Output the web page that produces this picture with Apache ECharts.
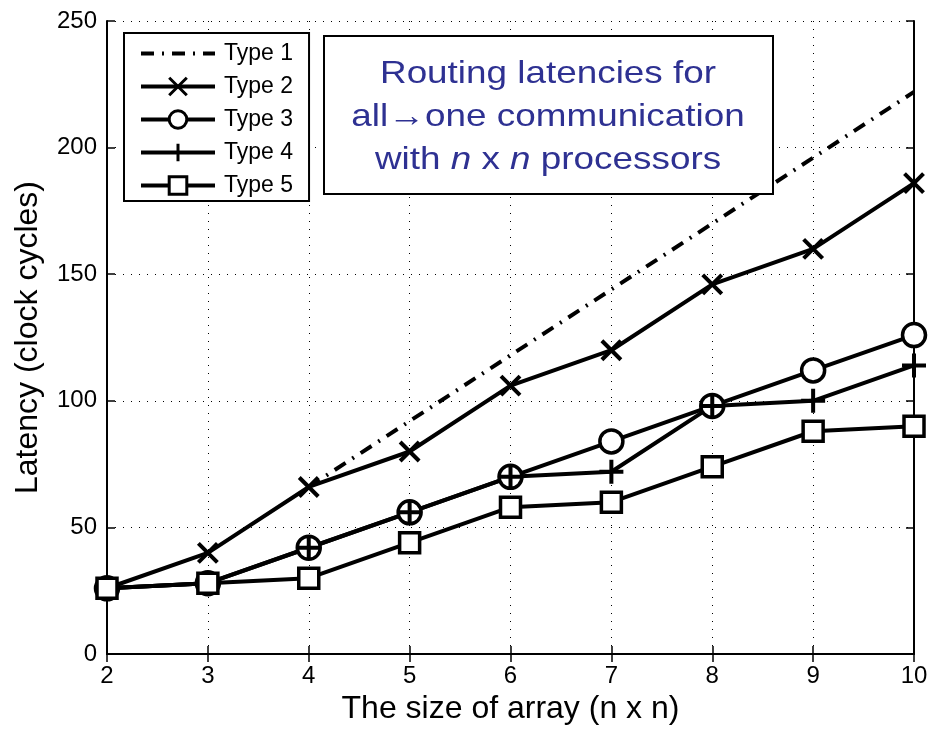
<!DOCTYPE html>
<html><head><meta charset="utf-8">
<script src="https://cdn.jsdelivr.net/npm/echarts@6/dist/echarts.min.js"></script>
<style>html,body{margin:0;padding:0;background:#fff}#c{width:931px;height:730px}</style>
</head><body><div id="c"></div>
<script>
const sizes = [2, 3, 4, 5, 6, 7, 8, 9, 10];
const type1 = [null, null, 66, 92, 118, 144, 170, 196, 222];
const type2 = [26, 40, 66, 80, 106, 120, 146, 160, 186];
const type3 = [26, 28, 42, 56, 70, 84, 98, 112, 126];
const type4 = [26, 28, 42, 56, 70, 72, 98, 100, 114];
const type5 = [26, 28, 30, 44, 58, 60, 74, 88, 90];
const seriesNames = ['Type 1', 'Type 2', 'Type 3', 'Type 4', 'Type 5'];
const yTicks = [0, 50, 100, 150, 200, 250];

const pair = arr => sizes.map((x, i) => [x, arr[i]]);
const FONT = 'Liberation Sans, Arial, sans-serif';
const crossPath = 'path://M0,0 L10,10 M10,0 L0,10';
const plusPath = 'path://M5,0 L5,10 M0,5 L10,5';

function mk(name, data, symbol, size, extra) {
  return Object.assign({
    name, type: 'line', data: pair(data), symbol, symbolSize: size,
    showAllSymbol: true, connectNulls: false,
    lineStyle: { color: '#000', width: 4 },
    itemStyle: { color: '#fff', borderColor: '#000', borderWidth: 3.5 },
    emphasis: { disabled: true }, animation: false, z: 3
  }, extra || {});
}

const chart = echarts.init(document.getElementById('c'));
const axisCommon = { type: 'value', min: 2, max: 10, interval: 1 };
const tickStyle = { inside: true, length: 8, lineStyle: { color: '#000', width: 1.5 } };
chart.setOption({
  backgroundColor: '#fff',
  animation: false,
  grid: { left: 107, right: 17, top: 21, bottom: 73, show: false },
  legend: {
    orient: 'vertical', left: 124, top: 33,
    backgroundColor: '#fff', borderColor: '#000', borderWidth: 2,
    padding: [9, 16, 4, 15], itemGap: 10, itemWidth: 74, itemHeight: 22,
    lineStyle: { width: 4, color: '#000' },
    itemStyle: { borderWidth: 3 },
    textStyle: { fontFamily: FONT, fontSize: 23, lineHeight: 22, color: '#000', padding: [0, 0, 0, 4] },
    data: seriesNames.map(n => n === 'Type 1'
      ? { name: n, itemStyle: { opacity: 0 } }
      : { name: n })
  },
  xAxis: [
    Object.assign({}, axisCommon, {
      position: 'bottom',
      name: 'The size of array (n x n)', nameLocation: 'middle', nameGap: 38,
      nameTextStyle: { fontFamily: FONT, fontSize: 32, color: '#000' },
      axisLine: { lineStyle: { color: '#000', width: 2 } },
      axisTick: tickStyle,
      axisLabel: { fontFamily: FONT, fontSize: 24, color: '#000', margin: 10 },
      splitLine: { show: true, lineStyle: { color: '#000', width: 1, type: [1, 7] } }
    }),
    Object.assign({}, axisCommon, {
      position: 'top',
      axisLine: { lineStyle: { color: '#000', width: 2 } },
      axisTick: tickStyle,
      axisLabel: { show: false }, splitLine: { show: false }
    })
  ],
  yAxis: [
    {
      type: 'value', min: 0, max: 250, interval: 50, position: 'left',
      name: 'Latency (clock cycles)', nameLocation: 'middle', nameGap: 63,
      nameTextStyle: { fontFamily: FONT, fontSize: 32, color: '#000' },
      axisLine: { show: true, lineStyle: { color: '#000', width: 2 } },
      axisTick: Object.assign({ show: true }, tickStyle),
      axisLabel: { fontFamily: FONT, fontSize: 24, color: '#000', margin: 10,
        formatter: v => yTicks.includes(v) ? String(v) : '' },
      splitLine: { show: true, lineStyle: { color: '#000', width: 1, type: [1, 7] } }
    },
    {
      type: 'value', min: 0, max: 250, interval: 50, position: 'right',
      axisLine: { show: true, lineStyle: { color: '#000', width: 2 } },
      axisTick: Object.assign({ show: true }, tickStyle),
      axisLabel: { show: false }, splitLine: { show: false }
    }
  ],
  series: [
    mk('Type 1', type1, 'none', 0, { lineStyle: { color: '#000', width: 4, type: [13, 8, 2, 8] }, itemStyle: { color: '#000' } }),
    mk('Type 2', type2, crossPath, 19, { itemStyle: { color: '#fff', borderColor: '#000', borderWidth: 4 } }),
    mk('Type 3', type3, 'circle', 23),
    mk('Type 4', type4, plusPath, 24, { itemStyle: { color: '#fff', borderColor: '#000', borderWidth: 4 } }),
    mk('Type 5', type5, 'rect', 20)
  ],
  graphic: [
    {
      type: 'rect', left: 323, top: 35, z: 10,
      shape: { width: 449, height: 158 },
      style: { fill: '#fff', stroke: '#000', lineWidth: 2 }
    },
    {
      type: 'text', z: 11, x: 548, y: 117, scaleX: 1.17,
      style: {
        x: 0, y: 0,
        text: '{a|Routing latencies for}\n{a|all\u2192one communication}\n{a|with }{i|n}{a| x }{i|n}{a| processors}',
        align: 'center', verticalAlign: 'middle',
        rich: {
          a: { fontFamily: FONT, fontSize: 31.5, fill: '#2e3192', lineHeight: 43 },
          i: { fontFamily: FONT, fontSize: 31.5, fill: '#2e3192', fontStyle: 'italic', lineHeight: 43 }
        }
      }
    }
  ]
});
</script></body></html>
